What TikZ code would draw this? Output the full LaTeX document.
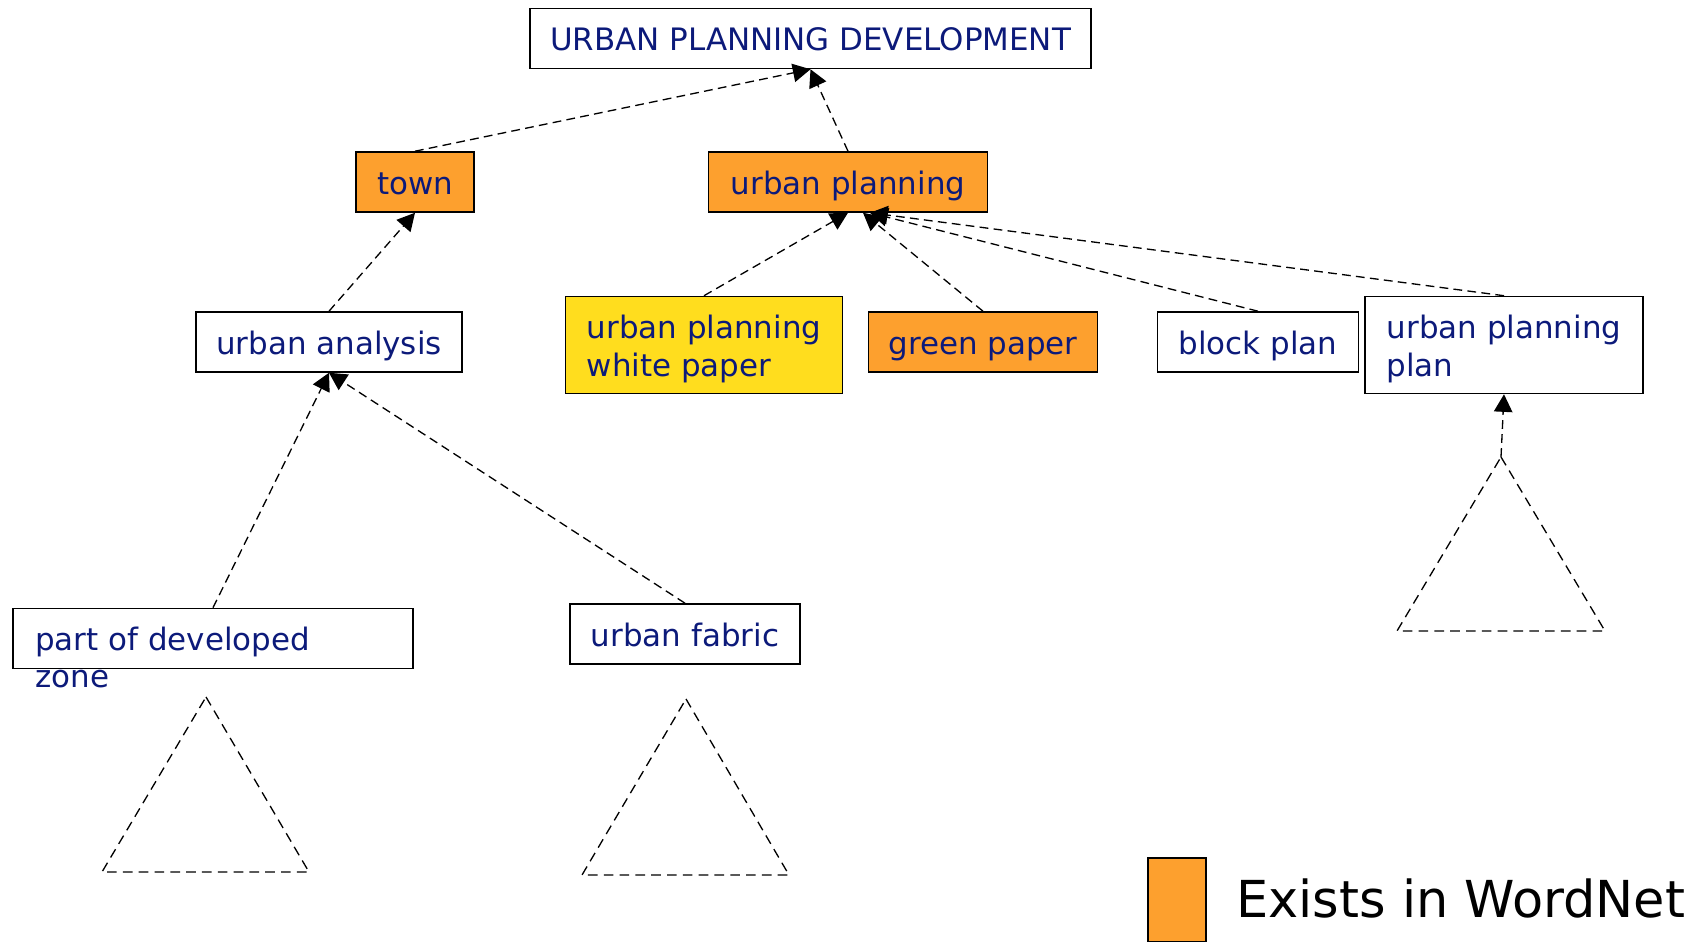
\documentclass[tikz,border=0pt]{standalone}
\usepackage{fontspec}
\setmainfont{DejaVu Sans}
\usetikzlibrary{arrows.meta}
\definecolor{navy}{RGB}{12,26,122}
\definecolor{wnorange}{RGB}{253,160,46}
\definecolor{wnyellow}{RGB}{255,221,30}

\begin{document}
\begin{tikzpicture}[x=0.02cm,y=-0.02cm]
\tikzstyle{box}=[draw,line width=0.9pt,minimum height=1.2cm,inner xsep=0.4cm,text=navy,font=\fontsize{17.6}{21.5}\selectfont];
\tikzstyle{term}=[box,text height=14pt,text depth=0pt];
\tikzstyle{term2}=[box,align=left,minimum height=1.94cm];
\tikzstyle{link}=[line width=0.75pt,dash pattern=on 5pt off 3pt,-{Triangle[length=10pt,width=10.5pt]}];
\tikzstyle{tri}=[line width=0.75pt,dash pattern=on 5.5pt off 3.5pt];

\useasboundingbox (0,0) rectangle (1704,942);

\node [term,minimum width=11.14cm] (upd) at (810.5,38.5) {URBAN PLANNING DEVELOPMENT};

\node [term,fill=wnorange,minimum width=2.36cm] (town) at (415,182) {town};
\node [term,fill=wnorange,minimum width=5.58cm] (up) at (848,182) {urban planning};

\node [term,minimum width=5.3cm] (ua) at (329,342) {urban analysis};
\node [term2,fill=wnyellow,minimum width=5.54cm] (wp) at (704,345) {\rule{0pt}{17.7pt}urban planning\\white paper};
\node [term,fill=wnorange,minimum width=4.56cm] (gp) at (983,342) {green paper};
\node [term,minimum width=4.02cm] (bp) at (1258,342) {block plan};
\node [term2,minimum width=5.56cm] (upp) at (1504,345) {\rule{0pt}{17.7pt}urban planning\\plan};

\node [term,minimum width=8cm] (pdz) at (213,638.5) {};
\node [anchor=base west,inner sep=0pt,text=navy,font=\fontsize{17.6}{21.5}\selectfont] (pdztext) at (35,650) {\begin{tabular}[t]{@{}l@{}}part of developed\\zone\end{tabular}};
\node [term,minimum width=4.6cm] (uf) at (685,634) {urban fabric};

\draw [link] (town.north) -- (upd.south);
\draw [link] (up.north) -- (upd.south);
\draw [link] (ua.north) -- (town.south);
\draw [link] (wp.north) -- (up.south);
\draw [link] (gp.north) -- ([xshift=0.3cm]up.south);
\draw [link] (bp.north) -- ([xshift=0.44cm]up.south);
\draw [link] (upp.north) -- ([xshift=0.44cm]up.south);
\draw [link] (pdz.north) -- (ua.south);
\draw [link] (uf.north) -- (ua.south);

\draw [tri] (206,697) -- (309,872) -- (102,872) -- cycle;
\draw [tri] (686,699) -- (789,875) -- (582,875) -- cycle;
\coordinate (apex3) at (1501,457);
\draw [tri] (apex3) -- (1605,631) -- (1397,631) -- cycle;
\draw [link] (apex3) -- (upp.south);

\node [draw,fill=wnorange,line width=0.9pt,minimum width=1.16cm,minimum height=1.68cm,inner sep=0pt] (legbox) at (1177,900) {};
\node [anchor=base west,inner sep=0pt,font=\fontsize{29}{35}\selectfont] (legtext) at (1236,917) {Exists in WordNet};
\end{tikzpicture}
\end{document}
